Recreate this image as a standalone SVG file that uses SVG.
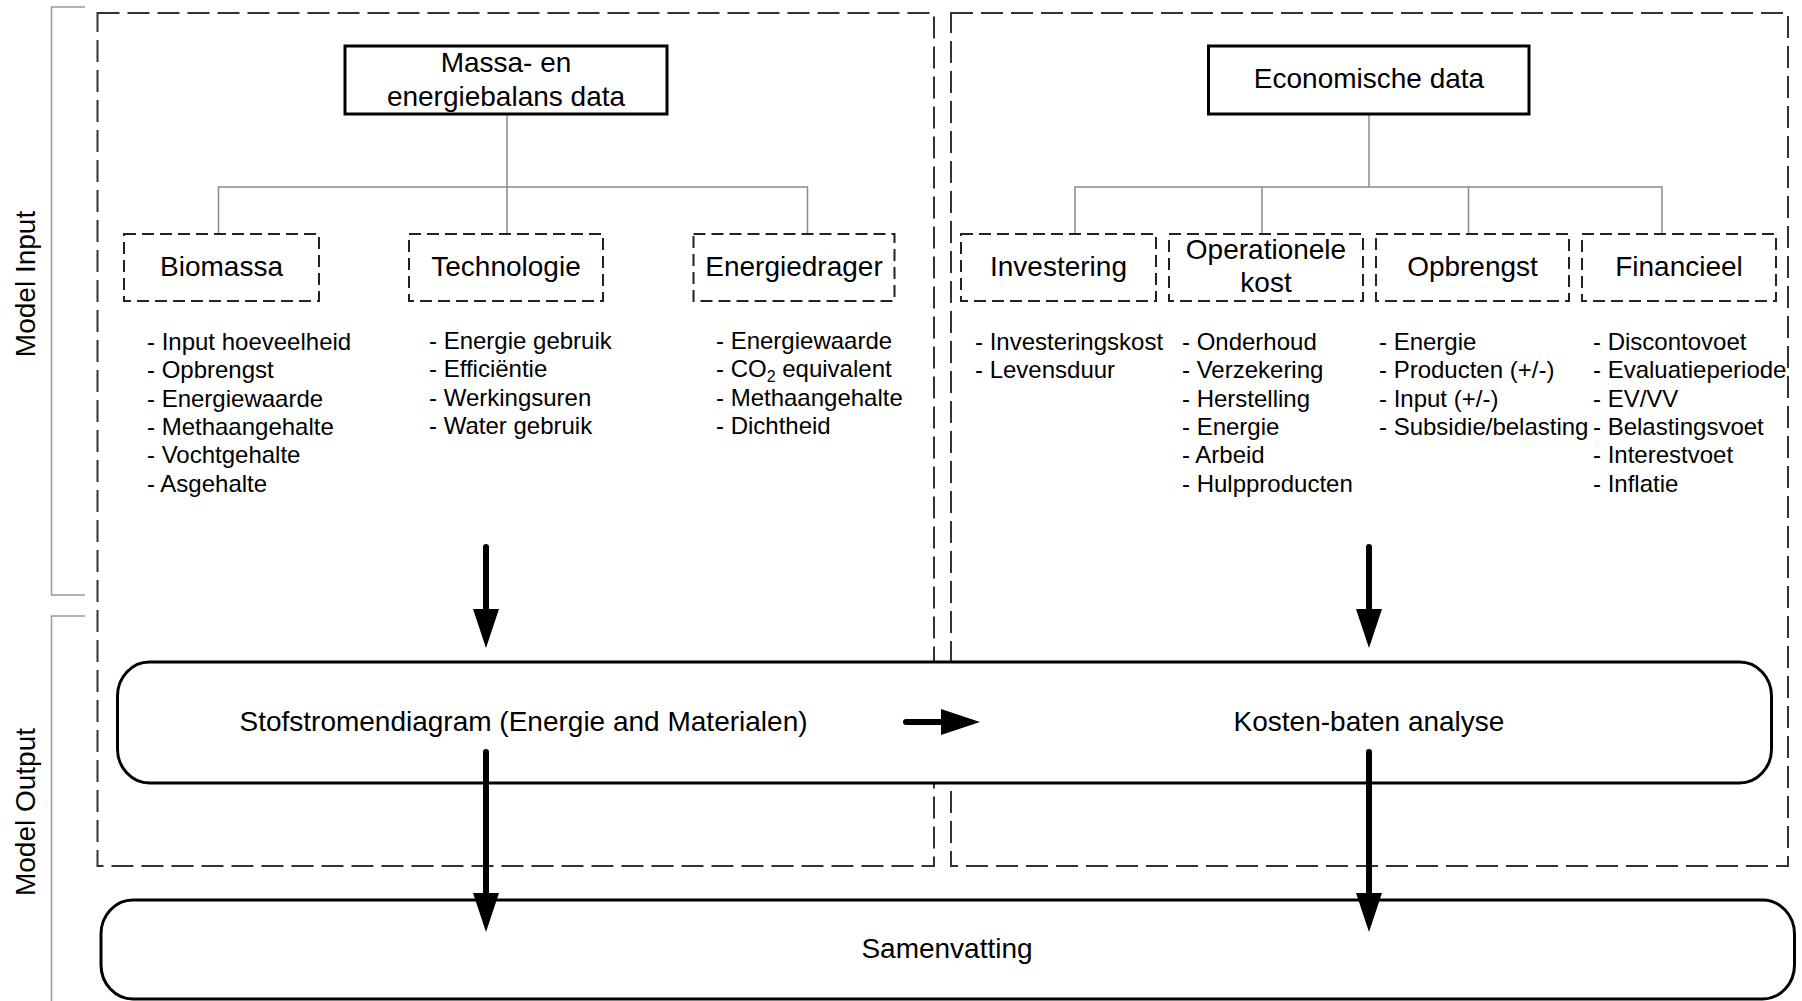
<svg xmlns="http://www.w3.org/2000/svg" width="1802" height="1001" viewBox="0 0 1802 1001">
  <style>
    text { font-family: "Liberation Sans", Arial, sans-serif; fill: #000; }
    .title { font-size: 28px; text-anchor: middle; }
    .item { font-size: 24px; }
    .side { font-size: 28px; text-anchor: middle; }
    .bracket { fill: none; stroke: #9a9a9a; stroke-width: 1.5; }
    .frame { fill: none; stroke: #333; stroke-width: 2; stroke-dasharray: 22 8; }
    .cat { fill: #fff; stroke: #222; stroke-width: 2; stroke-dasharray: 12 6; }
    .head { fill: #fff; stroke: #000; stroke-width: 3; }
    .proc { fill: #fff; stroke: #000; stroke-width: 3; }
    .tree { fill: none; stroke: #8a8a8a; stroke-width: 1.5; }
    .flow { fill: none; stroke: #000; stroke-width: 6; stroke-linecap: round; marker-end: url(#arrow); }
  </style>
  <defs>
    <marker id="arrow" markerUnits="userSpaceOnUse" markerWidth="40" markerHeight="28" refX="29" refY="13" orient="auto">
      <path d="M0,0 L39,13 L0,26 Z" fill="#000"/>
    </marker>
  </defs>

  <rect width="1802" height="1001" fill="#fff"/>

  <!-- side brackets with labels -->
  <g id="model-input">
    <path class="bracket" d="M85,7 H51.5 V595 H85"/>
    <text class="side" transform="translate(35,284) rotate(-90)">Model Input</text>
  </g>
  <g id="model-output">
    <path class="bracket" d="M85,616 H51.5 V1001"/>
    <text class="side" transform="translate(35,812) rotate(-90)">Model Output</text>
  </g>

  <!-- dashed frames for the two input domains -->
  <g id="frame-mass">
    <rect class="frame" x="97.5" y="13" width="836.5" height="853"/>
  </g>
  <g id="frame-economic">
    <rect class="frame" x="951" y="13" width="837" height="853"/>
  </g>

  <!-- tree connectors -->
  <g id="tree-connectors">
    <path class="tree" d="M507,114 V187 M218.5,234 V187 H807.5 V234 M507,187 V234"/>
    <path class="tree" d="M1369,114 V187 M1075,234 V187 H1662 V234 M1262,187 V234 M1468.5,187 V234"/>
  </g>

  <!-- top level data boxes -->
  <g id="massa-energiebalans">
    <rect class="head" x="345" y="46" width="322" height="68"/>
    <text class="title" x="506" y="72">Massa- en</text>
    <text class="title" x="506" y="106">energiebalans data</text>
  </g>
  <g id="economische-data">
    <rect class="head" x="1208.5" y="46" width="320.5" height="68"/>
    <text class="title" x="1369" y="88">Economische data</text>
  </g>

  <!-- category boxes and their parameter lists -->
  <g id="biomassa">
    <rect class="cat" x="124" y="234" width="195" height="67"/>
    <text class="title" x="221.5" y="276">Biomassa</text>
    <text class="item" x="147" y="350">
      <tspan x="147" y="350">- Input hoeveelheid</tspan>
      <tspan x="147" y="378.3">- Opbrengst</tspan>
      <tspan x="147" y="406.6">- Energiewaarde</tspan>
      <tspan x="147" y="434.9">- Methaangehalte</tspan>
      <tspan x="147" y="463.2">- Vochtgehalte</tspan>
      <tspan x="147" y="491.5">- Asgehalte</tspan>
    </text>
  </g>
  <g id="technologie">
    <rect class="cat" x="409" y="234" width="194" height="67"/>
    <text class="title" x="506" y="276">Technologie</text>
    <text class="item">
      <tspan x="429" y="349">- Energie gebruik</tspan>
      <tspan x="429" y="377.3">- Efficiëntie</tspan>
      <tspan x="429" y="405.6">- Werkingsuren</tspan>
      <tspan x="429" y="433.9">- Water gebruik</tspan>
    </text>
  </g>
  <g id="energiedrager">
    <rect class="cat" x="693.5" y="234" width="201" height="67"/>
    <text class="title" x="794" y="276">Energiedrager</text>
    <text class="item">
      <tspan x="716" y="349">- Energiewaarde</tspan>
      <tspan x="716" y="377.3">- CO</tspan><tspan font-size="16" dy="5">2</tspan><tspan dy="-5"> equivalent</tspan>
      <tspan x="716" y="405.6">- Methaangehalte</tspan>
      <tspan x="716" y="433.9">- Dichtheid</tspan>
    </text>
  </g>
  <g id="investering">
    <rect class="cat" x="961" y="234" width="195" height="67"/>
    <text class="title" x="1058.5" y="276">Investering</text>
    <text class="item">
      <tspan x="975" y="350">- Investeringskost</tspan>
      <tspan x="975" y="378.3">- Levensduur</tspan>
    </text>
  </g>
  <g id="operationele-kost">
    <rect class="cat" x="1169" y="234" width="194" height="67"/>
    <text class="title" x="1266" y="259">Operationele</text>
    <text class="title" x="1266" y="292">kost</text>
    <text class="item">
      <tspan x="1182" y="350">- Onderhoud</tspan>
      <tspan x="1182" y="378.3">- Verzekering</tspan>
      <tspan x="1182" y="406.6">- Herstelling</tspan>
      <tspan x="1182" y="434.9">- Energie</tspan>
      <tspan x="1182" y="463.2">- Arbeid</tspan>
      <tspan x="1182" y="491.5">- Hulpproducten</tspan>
    </text>
  </g>
  <g id="opbrengst">
    <rect class="cat" x="1376" y="234" width="193" height="67"/>
    <text class="title" x="1472.5" y="276">Opbrengst</text>
    <text class="item">
      <tspan x="1379" y="350">- Energie</tspan>
      <tspan x="1379" y="378.3">- Producten (+/-)</tspan>
      <tspan x="1379" y="406.6">- Input (+/-)</tspan>
      <tspan x="1379" y="434.9">- Subsidie/belasting</tspan>
    </text>
  </g>
  <g id="financieel">
    <rect class="cat" x="1582" y="234" width="194" height="67"/>
    <text class="title" x="1679" y="276">Financieel</text>
    <text class="item">
      <tspan x="1593" y="350">- Discontovoet</tspan>
      <tspan x="1593" y="378.3">- Evaluatieperiode</tspan>
      <tspan x="1593" y="406.6">- EV/VV</tspan>
      <tspan x="1593" y="434.9">- Belastingsvoet</tspan>
      <tspan x="1593" y="463.2">- Interestvoet</tspan>
      <tspan x="1593" y="491.5">- Inflatie</tspan>
    </text>
  </g>

  <!-- model output band -->
  <g id="output-analyses">
    <rect class="proc" x="117.5" y="662" width="1654" height="121" rx="32" ry="34"/>
    <text class="title" x="523.5" y="731">Stofstromendiagram (Energie and Materialen)</text>
    <text class="title" x="1369" y="731">Kosten-baten analyse</text>
  </g>

  <g id="samenvatting">
    <rect class="proc" x="101" y="900" width="1693.5" height="99" rx="32" ry="34"/>
    <text class="title" x="947" y="958">Samenvatting</text>
  </g>

  <!-- flow arrows -->
  <g id="connectors">
    <line class="flow" x1="486" y1="547" x2="486" y2="638"/>
    <line class="flow" x1="1369" y1="547" x2="1369" y2="638"/>
    <line class="flow" x1="906" y1="722" x2="970" y2="722"/>
    <line class="flow" x1="486" y1="752" x2="486" y2="922"/>
    <line class="flow" x1="1369" y1="752" x2="1369" y2="922"/>
  </g>
</svg>
